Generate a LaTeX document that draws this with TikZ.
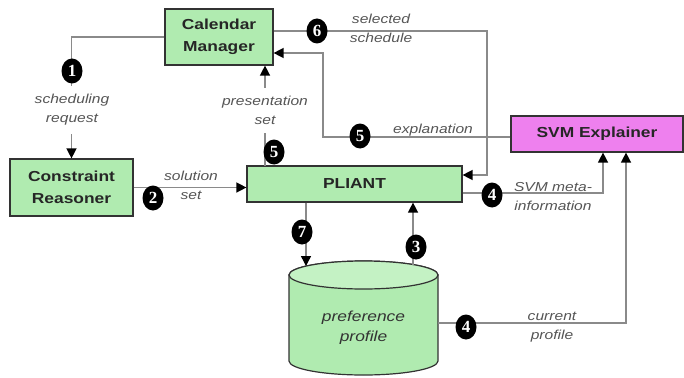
\documentclass[tikz,border=0pt]{standalone}
\usepackage{fontspec}
\setmainfont{Liberation Sans}[FakeStretch=1.2]
\newfontfamily\numfont{Liberation Serif}
\usetikzlibrary{arrows.meta,shapes.geometric}
\definecolor{boxgreen}{HTML}{B0EBB0}
\definecolor{toplight}{HTML}{C4F2C4}
\definecolor{svmviolet}{HTML}{EE80EE}
\definecolor{edgegray}{HTML}{8A8A8A}
\definecolor{lblgray}{HTML}{555555}
\begin{document}
\begin{tikzpicture}[x=1pt,y=-1pt,
  box/.style={draw=black!80, line width=1.2pt, fill=boxgreen, font=\bfseries\fontsize{14.5}{22}\selectfont, text=black!85, align=center, inner sep=0pt},
  badge/.style={ellipse, fill=black, text=white, font=\numfont\bfseries\fontsize{17}{17}\selectfont, minimum width=21pt, minimum height=25pt, inner sep=0pt},
  lbl/.style={font=\itshape\fontsize{13}{19}\selectfont, text=lblgray, align=center, inner sep=1pt},
  conn/.style={draw=edgegray, line width=1.4pt},
  arr/.style={conn, -{Triangle[length=10pt,width=10pt,color=black]}}]
\useasboundingbox (0,0) rectangle (684,377);

% boxes
\node[box, minimum width=108pt, minimum height=56pt] (cal) at (219,37) {Calendar\\Manager};
\node[box, minimum width=123pt, minimum height=57pt] (cr) at (71.5,187.5) {Constraint\\Reasoner};
\node[box, minimum width=215pt, minimum height=36pt] (pl) at (354.5,184) {PLIANT};
\node[box, fill=svmviolet, minimum width=172pt, minimum height=36pt] (svm) at (597,134) {SVM Explainer};

% cylinder
\path[draw=black!80, line width=1.2pt, fill=boxgreen] (289,275) -- (289,361)
  arc[start angle=180, end angle=360, x radius=74.5pt, y radius=14pt] -- (438,275)
  arc[start angle=0, end angle=180, x radius=74.5pt, y radius=14pt] -- cycle;
\draw[black!80, line width=1.2pt, fill=toplight] (363.5,275) ellipse[x radius=74.5pt, y radius=14pt];
\node[font=\itshape\fontsize{14.5}{20}\selectfont, text=black!80, align=center] (pp) at (363.5,328) {preference\\profile};

\coordinate (cylR) at (438,323);
\coordinate (cyl7) at (306,266);
\coordinate (cyl3) at (413,264.5);
\coordinate (p5) at (265,166);
\coordinate (k6) at (487,31);
\coordinate (k6b) at (487,175);
\coordinate (k5) at (323,137);
\coordinate (k5b) at (323,53);
\coordinate (k4) at (603,193);
\coordinate (k4c) at (626,323);

% connectors
\draw[arr] (cal.west) -| (cr.north);
\draw[arr] (cr.east) -- (cr.east -| pl.west);
\draw[arr] (p5) -- (p5 |- cal.south);
\draw[arr] (cal.east |- k6) -- (k6) -- (k6b) -- (k6b -| pl.east);
\draw[arr] (svm.west |- k5) -- (k5) -- (k5b) -- (k5b -| cal.east);
\draw[arr] (pl.east |- k4) -- (k4) -- (k4 |- svm.south);
\draw[arr] (cylR) -- (k4c) -- (k4c |- svm.south);
\draw[arr] (pl.south -| cyl7) -- (cyl7);
\draw[arr] (cyl3) -- (cyl3 |- pl.south);

% labels
\node[lbl, fill=white, inner ysep=8pt] (l1) at (72,110) {scheduling\\request};
\node[lbl] (l2) at (191,185.5) {solution\\set};
\node[lbl, fill=white, inner ysep=8pt] (l5a) at (265,110.5) {presentation\\set};
\node[lbl] (l6) at (381,28) {selected\\schedule};
\node[lbl] (l5b) at (433,130) {explanation};
\node[lbl] (l4a) at (553,197) {SVM meta-\\information};
\node[lbl] (l4b) at (552,327) {current\\profile};

% badges
\node[badge] (b1) at (72,71) {1};
\node[badge] (b2) at (153,198) {2};
\node[badge] (b5a) at (274,152) {5};
\node[badge] (b6) at (317,31) {6};
\node[badge] (b5b) at (360,136) {5};
\node[badge] (b4a) at (492,195) {4};
\node[badge] (b4b) at (466,327) {4};
\node[badge] (b7) at (302,232) {7};
\node[badge] (b3) at (416,247) {3};
\end{tikzpicture}
\end{document}
